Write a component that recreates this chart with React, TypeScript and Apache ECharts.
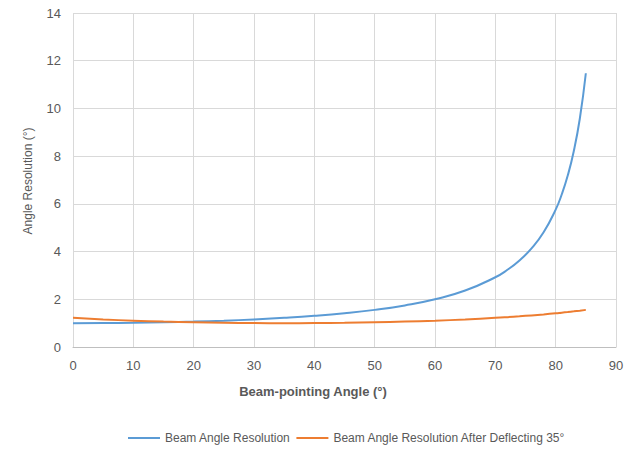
import React, { useEffect, useRef } from "react";
import * as echarts from "echarts";

const angles = [0, 5, 10, 15, 20, 25, 30, 35, 40, 45, 50, 55, 60, 65, 70, 72, 74, 76, 78, 80, 81, 82, 83, 84, 85];
const beamResolution = [1.0, 1.004, 1.015, 1.035, 1.064, 1.103, 1.155, 1.221, 1.305, 1.414, 1.556, 1.743, 2.0, 2.366, 2.924, 3.236, 3.628, 4.134, 4.81, 5.759, 6.392, 7.185, 8.206, 9.567, 11.474];
const deflectedResolution = [1.221, 1.155, 1.103, 1.064, 1.035, 1.015, 1.004, 1.0, 1.004, 1.015, 1.035, 1.064, 1.103, 1.155, 1.221, 1.252, 1.287, 1.325, 1.367, 1.414, 1.44, 1.466, 1.494, 1.524, 1.556];
const seriesNames = ["Beam Angle Resolution", "Beam Angle Resolution After Deflecting 35°"];
const xTitle = "Beam-pointing Angle (°)";
const yTitle = "Angle Resolution (°)";

export default function App() {
  const ref = useRef<HTMLDivElement>(null);
  useEffect(() => {
    document.body.style.margin = "0";
    const chart = echarts.init(ref.current!, null, { renderer: "svg" });
    const font = "'Liberation Sans', Arial, sans-serif";
    const gray = "#595959";
    chart.setOption({
      animation: false,
      backgroundColor: "#ffffff",
      textStyle: { fontFamily: font },
      grid: { left: 73, right: 20, top: 13, bottom: 104, containLabel: false },
      legend: {
        left: 128,
        top: 432,
        padding: 0,
        icon: "rect",
        itemWidth: 32,
        itemHeight: 2,
        itemGap: 6,
        textStyle: { color: gray, fontSize: 12, fontFamily: font },
        data: seriesNames,
      },
      xAxis: {
        type: "value",
        min: 0,
        max: 90,
        interval: 10,
        axisLine: { show: true, lineStyle: { color: "#bfbfbf", width: 1 } },
        axisTick: { show: false },
        axisLabel: { color: gray, fontSize: 13, margin: 12, fontFamily: font },
        splitLine: { show: true, lineStyle: { color: "#d9d9d9", width: 1 } },
      },
      yAxis: {
        type: "value",
        min: 0,
        max: 14,
        interval: 2,
        axisLine: { show: false },
        axisTick: { show: false },
        axisLabel: { color: gray, fontSize: 13, margin: 12, fontFamily: font },
        splitLine: { show: true, lineStyle: { color: "#d9d9d9", width: 1 } },
      },
      graphic: [
        {
          type: "text",
          x: 313,
          y: 391,
          style: {
            text: xTitle,
            fill: gray,
            font: `bold 13px ${font}`,
            textAlign: "center",
            textVerticalAlign: "middle",
          },
        },
        {
          type: "text",
          x: 28,
          y: 181,
          rotation: Math.PI / 2,
          style: {
            text: yTitle,
            fill: gray,
            font: `12px ${font}`,
            textAlign: "center",
            textVerticalAlign: "middle",
          },
        },
      ],
      series: [
        {
          name: seriesNames[0],
          type: "line",
          smooth: true,
          symbol: "none",
          data: angles.map((a, i) => [a, beamResolution[i]]),
          lineStyle: { color: "#5B9BD5", width: 2 },
          itemStyle: { color: "#5B9BD5" },
        },
        {
          name: seriesNames[1],
          type: "line",
          smooth: true,
          symbol: "none",
          data: angles.map((a, i) => [a, deflectedResolution[i]]),
          lineStyle: { color: "#ED7D31", width: 2 },
          itemStyle: { color: "#ED7D31" },
        },
      ],
    });
    return () => chart.dispose();
  }, []);
  return <div ref={ref} style={{ position: "fixed", left: 0, top: 0, width: 636, height: 451 }} />;
}
